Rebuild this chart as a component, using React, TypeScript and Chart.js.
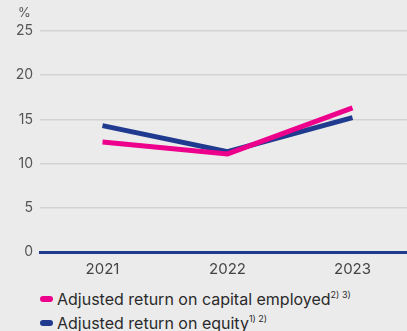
import React, { useEffect, useRef } from "react";
import { Chart, registerables } from "chart.js";

Chart.register(...registerables);

const years = ["2021", "2022", "2023"];
const roce = [12.45, 11.1, 16.3];
const roe = [14.3, 11.35, 15.2];
const yTicks = [0, 5, 10, 15, 20, 25];

const PINK = "#ec008c";
const BLUE = "#1f3a8f";
const BG = "#ebebeb";
const FONT = "Inter, Roboto, sans-serif";

export default function App() {
  const ref = useRef<HTMLCanvasElement | null>(null);

  useEffect(() => {
    document.body.style.margin = "0";
    const ctx = ref.current!;
    const chart = new Chart(ctx, {
      type: "line",
      data: {
        labels: years,
        datasets: [
          {
            label: "Adjusted return on capital employed",
            data: roce,
            borderColor: PINK,
            backgroundColor: PINK,
            borderWidth: 5,
            pointRadius: 0,
            tension: 0,
          },
          {
            label: "Adjusted return on equity",
            data: roe,
            borderColor: BLUE,
            backgroundColor: BLUE,
            borderWidth: 5,
            pointRadius: 0,
            tension: 0,
          },
        ],
      },
      options: {
        animation: false,
        responsive: false,
        maintainAspectRatio: false,
        layout: { padding: { top: 31, left: 0, right: 0, bottom: 0 } },
        plugins: { legend: { display: false }, tooltip: { enabled: false } },
        scales: {
          x: {
            offset: true,
            grid: { display: false, drawTicks: false },
            border: { display: true, color: BLUE, width: 3 },
            ticks: { color: "#444", font: { family: FONT, size: 15 }, padding: 8 },
            afterFit: (s: any) => { s.height = 28; },
          },
          y: {
            min: 0,
            max: 25,
            afterBuildTicks: (s: any) => { s.ticks = yTicks.map((v) => ({ value: v })); },
            grid: {
              color: (c: any) => (c.tick && c.tick.value === 0 ? "rgba(0,0,0,0)" : "#d3d3d3"),
              lineWidth: 1.5,
              drawTicks: false,
            },
            border: { display: false },
            ticks: { color: "#555", font: { family: FONT, size: 14 }, padding: 7 },
            afterFit: (s: any) => { s.width = 40; },
          },
        },
      },
      plugins: [
        {
          id: "bg",
          beforeDraw: (c: any) => {
            const g = c.ctx;
            g.save();
            g.fillStyle = BG;
            g.fillRect(0, 0, c.width, c.height);
            g.restore();
          },
        },
      ],
    });
    return () => chart.destroy();
  }, []);

  const legendRow = (color: string, text: string, sup: string, top: number) => (
    <div style={{ position: "absolute", left: 40, top, display: "flex", alignItems: "center", whiteSpace: "nowrap" }}>
      <span style={{ display: "inline-block", width: 13, height: 6, borderRadius: 3, background: color, marginRight: 4 }} />
      <span style={{ fontFamily: FONT, fontSize: 16, color: "#2a2a2a" }}>
        {text}
        <sup style={{ fontSize: 9, verticalAlign: "top", position: "relative", top: 0 }}>{sup}</sup>
      </span>
    </div>
  );

  return (
    <div style={{ position: "relative", width: 407, height: 331, overflow: "hidden", background: BG }}>
      <canvas ref={ref} width={415} height={280} style={{ position: "absolute", left: 0, top: 0 }} />
      <div style={{ position: "absolute", left: 18, top: 4, fontFamily: FONT, fontSize: 13, color: "#555" }}>%</div>
      {legendRow(PINK, "Adjusted return on capital employed", "2) 3)", 289)}
      {legendRow(BLUE, "Adjusted return on equity", "1) 2)", 313)}
    </div>
  );
}
